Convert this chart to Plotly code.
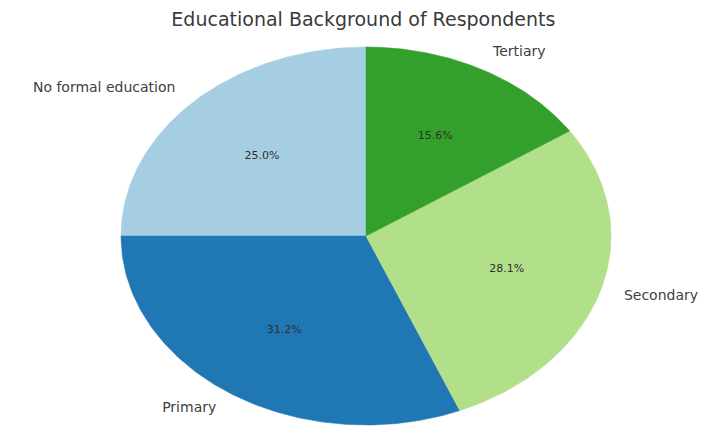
import numpy as np
import plotly.graph_objects as go

# Survey counts by education level
categories = ["No formal education", "Primary", "Secondary", "Tertiary"]
counts = [8, 10, 9, 5]
colors = ["#a6cee3", "#1f78b4", "#b2df8a", "#33a02c"]

title_text = "Educational Background of Respondents"

total = sum(counts)
shares = [c / total for c in counts]

fig = go.Figure()

# Wedges laid out counter-clockwise starting at 12 o'clock
start = 90.0
label_x, label_y, label_pos = [], [], []
pct_x, pct_y, pct_text = [], [], []
for name, share, color in zip(categories, shares, colors):
    sweep = share * 360.0
    theta = np.radians(np.linspace(start, start + sweep, 120))
    xs = np.concatenate([[0.0], np.cos(theta), [0.0]])
    ys = np.concatenate([[0.0], np.sin(theta), [0.0]])
    fig.add_trace(go.Scatter(
        x=xs, y=ys, mode="lines", fill="toself", fillcolor=color,
        line=dict(color=color, width=0.5), hoverinfo="text",
        text=f"{name}: {share * 100:.1f}%", showlegend=False,
    ))
    mid = np.radians(start + sweep / 2)
    label_x.append(1.1 * np.cos(mid))
    label_y.append(1.1 * np.sin(mid))
    label_pos.append("middle right" if np.cos(mid) >= 0 else "middle left")
    pct_x.append(0.6 * np.cos(mid))
    pct_y.append(0.6 * np.sin(mid))
    pct_text.append(f"{share * 100:.1f}%")
    start += sweep

# Category labels outside the pie
fig.add_trace(go.Scatter(
    x=label_x, y=label_y, mode="text", text=categories,
    textposition=label_pos,
    textfont=dict(family="DejaVu Sans", size=14, color="#404040"),
    hoverinfo="skip", showlegend=False,
))

# Percentage labels inside each wedge
fig.add_trace(go.Scatter(
    x=pct_x, y=pct_y, mode="text", text=pct_text, textposition="middle center",
    textfont=dict(family="DejaVu Sans", size=11, color="#303030"),
    hoverinfo="skip", showlegend=False,
))

fig.update_layout(
    width=707, height=426,
    margin=dict(l=0, r=0, t=0, b=0),
    paper_bgcolor="white", plot_bgcolor="white",
    title=dict(text=title_text, x=0.514, xanchor="center", y=0.955, yanchor="middle",
               font=dict(family="DejaVu Sans", size=19, color="#3a3a3a")),
    xaxis=dict(range=[-366 / 245, (707 - 366) / 245], visible=False, fixedrange=True),
    yaxis=dict(range=[-190 / 189, 236 / 189], visible=False, fixedrange=True),
)

fig.write_html("out.html")
